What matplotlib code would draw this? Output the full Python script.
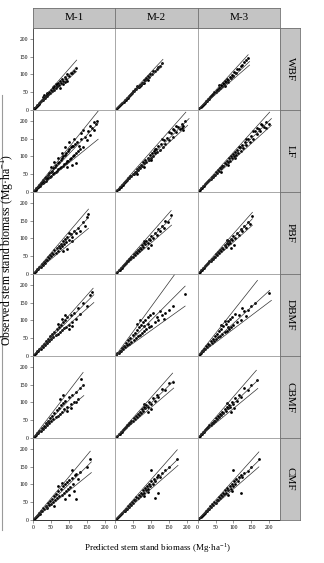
import matplotlib
matplotlib.use("Agg")
import matplotlib.pyplot as plt
from matplotlib.lines import Line2D

plt.rcParams["font.family"] = ["Liberation Serif", "DejaVu Serif"]

models = ["M-1", "M-2", "M-3"]
forests = ["WBF", "LF", "PBF", "DBMF", "CBMF", "CMF"]
ticks = [0, 50, 100, 150, 200]

# (predicted, observed) pairs
wbf_m1 = [(2, 2), (4, 5), (6, 6), (8, 9), (10, 10), (12, 13), (14, 15), (16, 17), (18, 19), (20, 22), (23, 24),
          (26, 28), (28, 29), (30, 33), (33, 34), (36, 39), (38, 38), (40, 44), (43, 44), (46, 50), (48, 48),
          (50, 55), (53, 54), (56, 61), (58, 57), (60, 66), (63, 62), (66, 72), (68, 67), (70, 76), (73, 71),
          (76, 82), (78, 76), (80, 86), (84, 82), (88, 92), (92, 88), (96, 100), (100, 95), (105, 105),
          (110, 104), (115, 110), (120, 118), (40, 48), (55, 64), (65, 74), (75, 62), (85, 72), (90, 78),
          (95, 80), (28, 36), (32, 42)]
wbf_m2 = [(2, 2), (5, 5), (8, 8), (11, 11), (14, 15), (17, 17), (20, 21), (23, 23), (26, 27), (29, 29), (32, 33),
          (35, 35), (38, 39), (41, 41), (44, 46), (47, 47), (50, 52), (53, 53), (56, 58), (59, 59), (62, 64),
          (65, 65), (68, 70), (71, 71), (74, 77), (77, 77), (80, 83), (83, 83), (86, 89), (89, 88), (92, 95),
          (95, 93), (98, 102), (102, 100), (106, 108), (110, 110), (115, 115), (120, 122), (125, 124),
          (130, 133), (60, 66), (70, 66), (80, 76), (90, 85)]
wbf_m3 = [(2, 2), (5, 5), (8, 8), (11, 12), (14, 14), (17, 18), (20, 20), (23, 24), (26, 26), (29, 30), (32, 32),
          (35, 37), (38, 38), (41, 43), (44, 44), (47, 50), (50, 50), (53, 56), (56, 56), (59, 62), (62, 61),
          (65, 69), (68, 67), (71, 75), (74, 73), (77, 81), (80, 79), (83, 87), (86, 84), (89, 93), (92, 90),
          (95, 99), (98, 96), (102, 106), (106, 104), (110, 114), (115, 116), (120, 124), (125, 127),
          (130, 134), (135, 140), (140, 146), (60, 70), (75, 68), (85, 78)]

lf_m1 = [(3, 3), (5, 6), (7, 7), (9, 10), (11, 11), (13, 15), (15, 14), (17, 19), (19, 18), (21, 24), (23, 22),
         (25, 29), (27, 25), (29, 33), (31, 29), (33, 38), (35, 32), (37, 43), (39, 36), (41, 48), (43, 40),
         (45, 52), (47, 42), (49, 57), (51, 46), (53, 60), (55, 50), (57, 66), (59, 52), (61, 70), (63, 56),
         (65, 75), (67, 60), (69, 80), (71, 64), (73, 84), (75, 68), (77, 90), (79, 70), (81, 95), (83, 74),
         (85, 100), (87, 78), (89, 105), (91, 82), (93, 110), (95, 86), (97, 115), (99, 88), (101, 120),
         (103, 92), (105, 125), (107, 96), (109, 130), (111, 100), (113, 128), (115, 105), (118, 135),
         (120, 110), (123, 140), (125, 115), (128, 130), (130, 120), (135, 150), (140, 125), (145, 155),
         (150, 145), (155, 170), (160, 185), (165, 180), (170, 195), (175, 190), (178, 200), (160, 160),
         (170, 175), (110, 75), (120, 80), (60, 85), (70, 95), (80, 110), (90, 125), (50, 70), (100, 140),
         (115, 150), (135, 165), (140, 175), (95, 70)]
lf_m2 = [(3, 3), (6, 6), (9, 9), (12, 13), (15, 15), (18, 19), (21, 21), (24, 25), (27, 27), (30, 32), (33, 33),
         (36, 38), (39, 39), (42, 45), (45, 44), (48, 51), (51, 50), (54, 57), (57, 56), (60, 64), (63, 62),
         (66, 70), (69, 68), (72, 77), (75, 74), (78, 83), (81, 80), (84, 90), (87, 85), (90, 96), (93, 90),
         (96, 103), (99, 96), (102, 110), (105, 102), (108, 116), (111, 108), (114, 122), (117, 112),
         (120, 128), (124, 118), (128, 135), (132, 125), (136, 145), (140, 135), (145, 152), (150, 145),
         (155, 165), (160, 155), (165, 175), (170, 168), (175, 182), (180, 178), (185, 190), (190, 185),
         (195, 198), (80, 70), (100, 90), (60, 50), (110, 120), (130, 148), (150, 168), (160, 176),
         (170, 185), (185, 180), (190, 175)]
lf_m3 = [(3, 3), (6, 6), (9, 10), (12, 12), (15, 16), (18, 18), (21, 22), (24, 24), (27, 29), (30, 30), (33, 35),
         (36, 36), (39, 42), (42, 42), (45, 48), (48, 48), (51, 55), (54, 54), (57, 61), (60, 60), (63, 68),
         (66, 66), (69, 74), (72, 72), (75, 81), (78, 78), (81, 87), (84, 83), (87, 94), (90, 88), (93, 100),
         (96, 94), (99, 106), (102, 100), (105, 113), (108, 105), (111, 119), (114, 110), (117, 126),
         (120, 116), (124, 132), (128, 124), (132, 140), (136, 132), (140, 148), (145, 140), (150, 158),
         (155, 150), (160, 170), (165, 162), (170, 178), (175, 172), (180, 188), (185, 183), (190, 195),
         (198, 192), (85, 75), (105, 95), (65, 55), (115, 125), (135, 150), (155, 172), (165, 180),
         (178, 190), (190, 180)]

pbf_m1 = [(3, 3), (6, 7), (9, 9), (12, 14), (15, 15), (18, 20), (21, 21), (24, 27), (27, 26), (30, 33), (33, 32),
          (36, 40), (39, 38), (42, 47), (45, 44), (48, 53), (51, 50), (54, 60), (57, 55), (60, 66), (63, 60),
          (66, 72), (69, 65), (72, 78), (75, 72), (78, 85), (81, 78), (84, 92), (87, 84), (90, 98), (93, 90),
          (96, 104), (100, 96), (105, 112), (110, 104), (115, 120), (120, 114), (125, 130), (130, 120),
          (140, 145), (145, 135), (150, 160), (155, 167), (85, 65), (95, 70), (110, 92), (100, 115)]
pbf_m2 = [(3, 3), (6, 6), (9, 10), (12, 12), (15, 16), (18, 18), (21, 23), (24, 24), (27, 29), (30, 30), (33, 36),
          (36, 36), (39, 42), (42, 42), (45, 49), (48, 48), (51, 55), (54, 54), (57, 62), (60, 60), (63, 68),
          (66, 65), (69, 74), (72, 71), (75, 80), (78, 77), (81, 87), (84, 83), (87, 93), (90, 88), (93, 99),
          (96, 94), (100, 106), (105, 102), (110, 116), (115, 110), (120, 126), (125, 120), (130, 136),
          (135, 130), (140, 148), (148, 145), (155, 165), (90, 72), (100, 80), (80, 92)]
pbf_m3 = [(3, 3), (6, 6), (9, 10), (12, 12), (15, 16), (18, 18), (21, 23), (24, 24), (27, 29), (30, 30), (33, 36),
          (36, 36), (39, 42), (42, 42), (45, 49), (48, 48), (51, 55), (54, 54), (57, 62), (60, 60), (63, 68),
          (66, 65), (69, 74), (72, 71), (75, 80), (78, 77), (81, 87), (84, 83), (87, 93), (90, 88), (93, 99),
          (96, 94), (100, 106), (105, 102), (110, 116), (115, 110), (120, 126), (125, 120), (130, 134),
          (135, 128), (140, 146), (146, 140), (152, 162), (92, 72), (102, 82), (82, 94)]

dbmf_m1 = [(3, 3), (6, 7), (9, 9), (12, 14), (15, 15), (18, 20), (21, 21), (24, 27), (27, 26), (30, 34), (33, 31),
           (36, 41), (39, 37), (42, 48), (45, 43), (48, 55), (51, 49), (54, 62), (57, 54), (60, 68), (63, 58),
           (66, 75), (69, 63), (72, 82), (75, 68), (78, 88), (81, 72), (84, 95), (87, 78), (90, 100), (93, 82),
           (96, 108), (100, 88), (105, 115), (110, 95), (115, 120), (120, 105), (125, 135), (130, 118),
           (140, 150), (150, 140), (160, 170), (165, 180), (70, 90), (80, 105), (90, 115), (100, 75), (110, 85)]
dbmf_m2 = [(3, 3), (6, 8), (9, 9), (12, 15), (15, 14), (18, 22), (21, 20), (24, 29), (27, 25), (30, 37), (33, 30),
           (36, 44), (39, 34), (42, 50), (45, 40), (48, 58), (51, 45), (54, 65), (57, 50), (60, 72), (63, 55),
           (66, 80), (69, 60), (72, 88), (75, 65), (78, 95), (81, 70), (84, 100), (87, 75), (90, 108), (93, 80),
           (96, 115), (100, 85), (105, 120), (110, 95), (115, 110), (120, 100), (130, 115), (140, 120),
           (150, 130), (160, 140), (195, 175), (60, 90), (70, 100), (80, 85), (90, 90), (125, 125), (135, 105)]
dbmf_m3 = [(3, 3), (6, 7), (9, 9), (12, 14), (15, 15), (18, 21), (21, 20), (24, 28), (27, 26), (30, 35), (33, 31),
           (36, 42), (39, 37), (42, 49), (45, 42), (48, 56), (51, 48), (54, 63), (57, 53), (60, 70), (63, 57),
           (66, 77), (69, 62), (72, 84), (75, 66), (78, 91), (81, 71), (84, 97), (87, 76), (90, 104), (93, 80),
           (96, 110), (100, 86), (105, 118), (110, 95), (115, 115), (120, 102), (130, 125), (140, 128),
           (150, 140), (160, 150), (200, 178), (65, 88), (75, 98), (85, 82), (125, 135), (135, 112)]

cbmf_m1 = [(3, 3), (6, 7), (9, 9), (12, 14), (15, 15), (18, 21), (21, 20), (24, 28), (27, 26), (30, 35), (33, 31),
           (36, 42), (39, 37), (42, 49), (45, 43), (48, 56), (51, 49), (54, 63), (57, 54), (60, 70), (63, 58),
           (66, 78), (69, 63), (72, 85), (75, 68), (78, 92), (81, 74), (84, 98), (87, 80), (90, 105), (95, 88),
           (100, 115), (105, 95), (110, 120), (115, 100), (120, 130), (125, 110), (130, 140), (135, 165),
           (140, 150), (75, 110), (85, 120), (95, 75), (105, 85), (120, 100)]
cbmf_m2 = [(3, 3), (6, 6), (9, 10), (12, 12), (15, 16), (18, 18), (21, 23), (24, 24), (27, 29), (30, 30), (33, 36),
           (36, 36), (39, 42), (42, 42), (45, 49), (48, 48), (51, 55), (54, 54), (57, 62), (60, 60), (63, 68),
           (66, 65), (69, 74), (72, 71), (75, 80), (78, 77), (81, 87), (84, 83), (87, 93), (90, 88), (95, 102),
           (100, 96), (105, 112), (110, 105), (115, 120), (120, 115), (130, 138), (140, 135), (150, 155),
           (160, 158), (90, 72), (100, 82), (80, 95)]
cbmf_m3 = [(3, 3), (6, 6), (9, 10), (12, 12), (15, 16), (18, 18), (21, 23), (24, 24), (27, 29), (30, 30), (33, 36),
           (36, 36), (39, 42), (42, 42), (45, 49), (48, 48), (51, 55), (54, 54), (57, 62), (60, 60), (63, 68),
           (66, 65), (69, 74), (72, 71), (75, 80), (78, 77), (81, 87), (84, 83), (87, 93), (90, 88), (95, 102),
           (100, 96), (105, 112), (110, 105), (115, 122), (120, 115), (130, 140), (140, 135), (150, 150),
           (165, 162), (92, 74), (102, 84), (82, 97)]

cmf_m1 = [(2, 2), (5, 5), (8, 8), (11, 12), (14, 13), (17, 19), (20, 18), (23, 26), (26, 24), (29, 33), (32, 30),
          (35, 40), (38, 35), (41, 47), (44, 41), (47, 54), (50, 46), (53, 60), (56, 51), (59, 67), (62, 56),
          (65, 73), (68, 61), (71, 80), (74, 66), (77, 87), (80, 71), (83, 94), (86, 76), (89, 100), (92, 81),
          (95, 106), (98, 88), (101, 112), (104, 92), (108, 118), (112, 100), (116, 125), (120, 130),
          (125, 115), (130, 135), (160, 170), (150, 150), (120, 60), (115, 80), (100, 70), (60, 40), (80, 105),
          (110, 140), (90, 60), (70, 95)]
cmf_m2 = [(2, 2), (5, 5), (8, 8), (11, 12), (14, 14), (17, 18), (20, 20), (23, 25), (26, 26), (29, 31), (32, 32),
          (35, 38), (38, 37), (41, 44), (44, 43), (47, 51), (50, 49), (53, 57), (56, 55), (59, 64), (62, 61),
          (65, 70), (68, 66), (71, 77), (74, 72), (77, 83), (80, 77), (83, 90), (86, 83), (89, 96), (92, 88),
          (95, 102), (98, 94), (101, 108), (104, 100), (108, 114), (112, 108), (116, 122), (120, 126),
          (125, 120), (130, 132), (140, 140), (150, 150), (173, 170), (120, 75), (100, 140), (110, 62),
          (80, 68), (90, 78)]
cmf_m3 = [(2, 2), (5, 5), (8, 8), (11, 12), (14, 14), (17, 18), (20, 20), (23, 25), (26, 26), (29, 31), (32, 32),
          (35, 38), (38, 37), (41, 44), (44, 43), (47, 51), (50, 49), (53, 57), (56, 55), (59, 64), (62, 61),
          (65, 70), (68, 66), (71, 77), (74, 72), (77, 83), (80, 77), (83, 90), (86, 83), (89, 96), (92, 88),
          (95, 102), (98, 94), (101, 108), (104, 100), (108, 114), (112, 108), (116, 122), (120, 126),
          (125, 120), (130, 132), (140, 138), (150, 148), (172, 170), (120, 75), (100, 140), (85, 70), (95, 80)]

# band lines: end points (x, y) of upper, middle and lower line
wbf_lines = [[(122, 140), (122, 120), (122, 108)], [(133, 142), (133, 131), (130, 122)],
             [(141, 155), (145, 136), (145, 126)]]
lf_lines = [[(182, 227), (182, 193), (182, 148)], [(197, 224), (206, 206), (202, 187)],
            [(201, 224), (206, 206), (206, 187)]]
pbf_lines = [[(155, 182), (155, 158), (155, 128)], [(156, 178), (157, 158), (157, 137)],
             [(153, 173), (153, 155), (153, 137)]]
dbmf_lines = [[(168, 190), (170, 172), (170, 150)], [(166, 229), (195, 196), (195, 140)],
              [(167, 212), (201, 184), (206, 156)]]
cbmf_lines = [[(140, 184), (142, 150), (142, 119)], [(160, 182), (163, 160), (163, 140)],
              [(164, 190), (168, 162), (168, 139)]]
cmf_lines = [[(160, 193), (163, 163), (163, 133)], [(173, 197), (173, 169), (175, 153)],
             [(171, 191), (171, 167), (171, 149)]]

points = [[wbf_m1, wbf_m2, wbf_m3], [lf_m1, lf_m2, lf_m3], [pbf_m1, pbf_m2, pbf_m3],
          [dbmf_m1, dbmf_m2, dbmf_m3], [cbmf_m1, cbmf_m2, cbmf_m3], [cmf_m1, cmf_m2, cmf_m3]]
lines = [wbf_lines, lf_lines, pbf_lines, dbmf_lines, cbmf_lines, cmf_lines]

W, H = 324, 563
left, right, top, bottom = 33, 280, 28, 520

fig = plt.figure(figsize=(W / 100, H / 100), dpi=100)
axs = fig.subplots(6, 3, sharex=True, sharey=True,
                   gridspec_kw=dict(left=left / W, right=right / W, top=1 - top / H, bottom=1 - bottom / H,
                                    hspace=0, wspace=0))

for r in range(6):
    for c in range(3):
        ax = axs[r, c]
        xs = [p[0] for p in points[r][c]]
        ys = [p[1] for p in points[r][c]]
        for (xe, ye) in lines[r][c]:
            ax.plot([0, xe], [0, ye], color="#333333", lw=0.5)
        ax.scatter(xs, ys, s=4, color="black", marker="o", linewidths=0)
        ax.set_xlim(0, 230)
        ax.set_ylim(0, 230)
        ax.set_xticks(ticks)
        ax.set_yticks(ticks)
        ax.tick_params(length=2, width=0.4, color="#444444", labelsize=4, pad=1.5)
        for s in ["left", "right", "top"]:
            ax.spines[s].set_color("#9a9a9a")
            ax.spines[s].set_linewidth(0.6)
        ax.spines["bottom"].set_color("#333333")
        ax.spines["bottom"].set_linewidth(0.7)
        if c == 0:
            ax.spines["left"].set_color("#333333")
        if c > 0:
            ax.tick_params(axis="y", left=False)
        if r < 5:
            ax.tick_params(axis="x", bottom=False)

# column strips
col_w = (right - left) / 3
for c in range(3):
    sax = fig.add_axes([(left + c * col_w) / W, 1 - top / H, col_w / W, 20 / H])
    sax.set_facecolor("#c4c4c4")
    sax.set_xticks([])
    sax.set_yticks([])
    for s in sax.spines.values():
        s.set_color("#707070")
        s.set_linewidth(0.6)
    sax.text(0.5, 0.5, models[c], ha="center", va="center", fontsize=8, transform=sax.transAxes)

# row strips
row_h = (bottom - top) / 6
for r in range(6):
    sax = fig.add_axes([right / W, 1 - (top + (r + 1) * row_h) / H, 20 / W, row_h / H])
    sax.set_facecolor("#c4c4c4")
    sax.set_xticks([])
    sax.set_yticks([])
    for s in sax.spines.values():
        s.set_color("#707070")
        s.set_linewidth(0.6)
    sax.text(0.5, 0.5, forests[r], ha="center", va="center", fontsize=8, rotation=-90,
             transform=sax.transAxes)

fig.text(158 / W, 1 - 548 / H, "Predicted stem stand biomass (Mg·ha$^{\\mathregular{-1}}$)",
         ha="center", va="center", fontsize=6.5)
fig.text(8 / W, 1 - 250 / H, "Observed stem stand biomass (Mg·ha$^{\\mathregular{-1}}$)",
         ha="center", va="center", fontsize=8.5, rotation=90)

fig.add_artist(Line2D([1.5 / W, 1.5 / W], [1 - 95 / H, 1 - 530 / H], color="#9a9a9a", lw=0.8))

fig.savefig("out.png", dpi=100)
